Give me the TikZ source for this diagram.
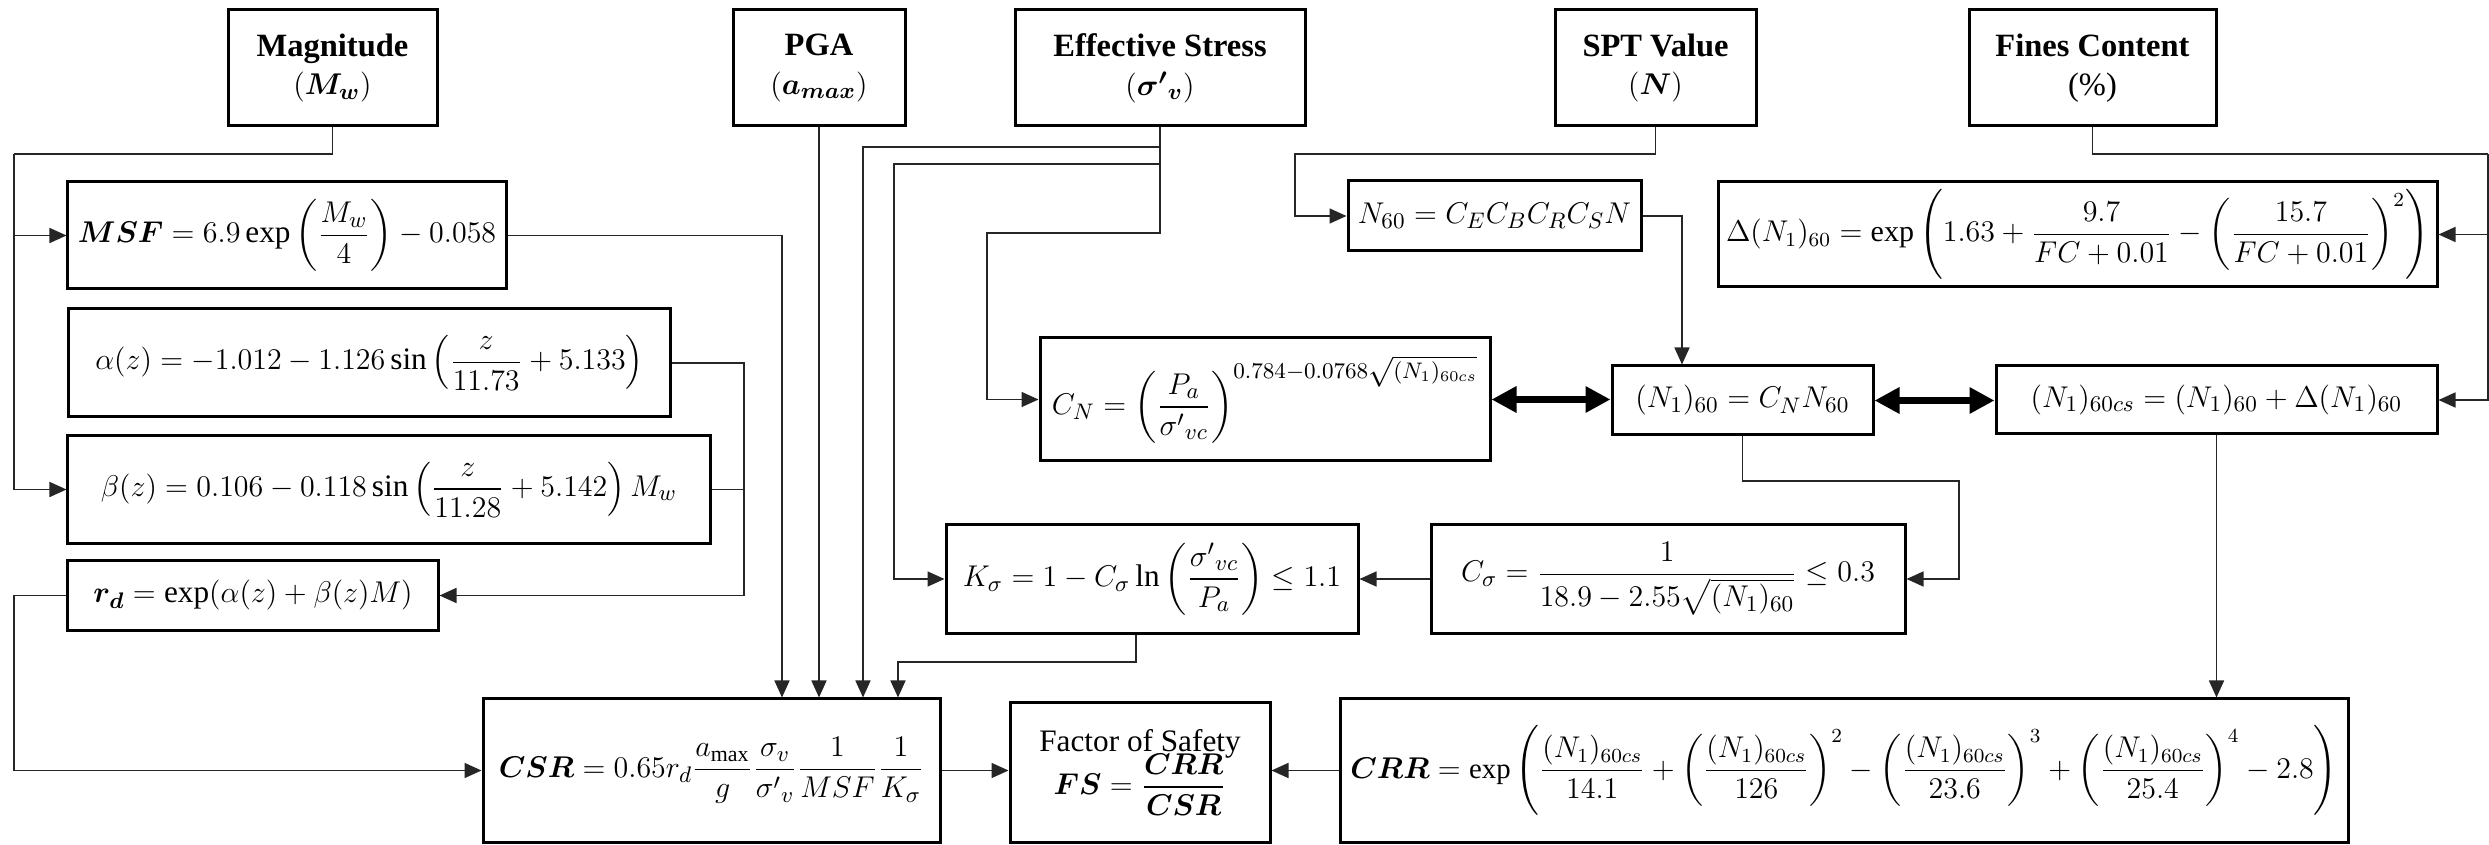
\documentclass[tikz,border=0pt]{standalone}
\usepackage{amsmath}
\usepackage{bm}
\usepackage{fontspec}
\setmainfont{LiberationSerif}[Extension=.ttf, UprightFont=*-Regular, BoldFont=*-Bold, ItalicFont=*-Italic, BoldItalicFont=*-BoldItalic]
\usetikzlibrary{arrows.meta}
\begin{document}
\begin{tikzpicture}[x=0.4pt,y=-0.4pt,
  eqbox/.style={draw=black, line width=1.2pt, inner sep=0pt, align=center, font=\fontsize{12.5}{15}\selectfont},
  ttlbox/.style={eqbox, font=\fontsize{13}{15.5}\selectfont\bfseries},
  conn/.style={draw=black!85, line width=0.65pt},
  arr/.style={conn, -{Triangle[length=6.8pt,width=6pt]}},
  dbl/.style={draw=black, line width=2.8pt, {Triangle[length=10pt,width=10pt]}-{Triangle[length=10pt,width=10pt]}}]
\fill[white] (0,0) rectangle (2489,845);
\useasboundingbox (0,0) rectangle (2489,845);

% top input boxes
\node[ttlbox, minimum width=83.6pt, minimum height=46.4pt] (mag) at (332.5,68) {Magnitude\\$(\bm{M_w})$};
\node[ttlbox, minimum width=68.8pt, minimum height=46.4pt] (pga) at (819,68) {PGA\\$(\bm{a_{max}})$};
\node[ttlbox, minimum width=116pt, minimum height=46.4pt] (eff) at (1160,68) {Effective Stress\\$(\bm{{\sigma'}_{v}})$};
\node[ttlbox, minimum width=80.4pt, minimum height=46.4pt] (spt) at (1655.5,68) {SPT Value\\$(\bm{N})$};
\node[ttlbox, minimum width=98.8pt, minimum height=46.4pt] (fines) at (2092.5,68) {Fines Content\\\textnormal{(\%)}};

% equation boxes
\node[eqbox, minimum width=175.2pt, minimum height=42.8pt] (msf) at (287,235.5)
  {$\displaystyle \bm{MSF} = 6.9\exp\left(\frac{M_w}{4}\right) - 0.058$};
\node[eqbox, minimum width=240.4pt, minimum height=43.2pt] (alpha) at (369.5,363)
  {$\displaystyle \alpha(z) = -1.012 - 1.126\sin\left(\frac{z}{11.73} + 5.133\right)$};
\node[eqbox, minimum width=256.8pt, minimum height=42.8pt] (beta) at (389,489.5)
  {$\displaystyle \beta(z) = 0.106 - 0.118\sin\left(\frac{z}{11.28} + 5.142\right)M_w$};
\node[eqbox, minimum width=148pt, minimum height=27.6pt] (rd) at (253,595.5)
  {$\displaystyle \bm{r_d} = \exp(\alpha(z) + \beta(z)M)$};
\node[eqbox, minimum width=117.2pt, minimum height=28pt] (n60) at (1494.5,216)
  {$\displaystyle N_{60} = C_E C_B C_R C_S N$};
\node[eqbox, minimum width=287.6pt, minimum height=42pt, font=\fontsize{12}{14}\selectfont] (delta) at (2077.5,234.5)
  {$\displaystyle \Delta(N_1)_{60} = \exp\left(1.63 + \frac{9.7}{FC+0.01} - \left(\frac{15.7}{FC+0.01}\right)^{2}\right)$};
\node[eqbox, minimum width=180pt, minimum height=49.2pt] (cn) at (1265,399.5)
  {$\displaystyle C_N = \left(\frac{P_a}{{\sigma'}_{vc}}\right)^{0.784-0.0768\sqrt{(N_1)_{60cs}}}$};
\node[eqbox, minimum width=104.4pt, minimum height=27.6pt] (n160) at (1742.5,400.5)
  {$\displaystyle (N_1)_{60} = C_N N_{60}$};
\node[eqbox, minimum width=176.4pt, minimum height=27.2pt] (n160cs) at (2216.5,400)
  {$\displaystyle (N_1)_{60cs} = (N_1)_{60} + \Delta(N_1)_{60}$};
\node[eqbox, minimum width=164.8pt, minimum height=43.2pt] (ks) at (1152,579)
  {$\displaystyle K_\sigma = 1 - C_\sigma \ln\left(\frac{{\sigma'}_{vc}}{P_a}\right) \le 1.1$};
\node[eqbox, minimum width=189.6pt, minimum height=43.2pt] (cs) at (1668,579)
  {$\displaystyle C_\sigma = \frac{1}{18.9 - 2.55\sqrt{(N_1)_{60}}} \le 0.3$};
\node[eqbox, minimum width=182.8pt, minimum height=57.2pt] (csr) at (711.5,770.5)
  {$\displaystyle \bm{CSR} = 0.65 r_d \frac{a_{\max}}{g}\frac{\sigma_v}{{\sigma'}_v}\frac{1}{MSF}\frac{1}{K_\sigma}$};
\node[eqbox, minimum width=104pt, minimum height=55.6pt] (fs) at (1140,772.5)
  {Factor of Safety\\[-3pt]$\displaystyle \bm{FS} = \frac{\bm{CRR}}{\bm{CSR}}$};
\node[eqbox, minimum width=403.2pt, minimum height=57.2pt, font=\fontsize{11.5}{14}\selectfont] (crr) at (1844,770.5)
  {$\displaystyle \bm{CRR} = \exp\left(\frac{(N_1)_{60cs}}{14.1} + \left(\frac{(N_1)_{60cs}}{126}\right)^{2} - \left(\frac{(N_1)_{60cs}}{23.6}\right)^{3} + \left(\frac{(N_1)_{60cs}}{25.4}\right)^{4} - 2.8\right)$};

% connectors
\coordinate (mL) at (14,154);
\draw[conn] (mag.south) |- (mL);
\draw[arr] (mL) |- (beta.west);
\draw[arr] (mL) |- (msf.west);

\draw[arr] (msf.east) -| (782,0 |- csr.north);
\draw[arr] (pga.south) -- (pga.south |- csr.north);

\draw[arr] (eff.south) -- (eff.south |- 0,147) -| (863,0 |- csr.north);
\draw[arr] (eff.south) -- (eff.south |- 0,164) -- (894,164) |- (ks.west);
\draw[arr] (eff.south) -- (eff.south |- 0,233) -- (987,233) |- (cn.west);

\draw[arr] (spt.south) -- (spt.south |- 0,154) -- (1295,154) |- (n60.west);
\draw[arr] (n60.east) -| (1682,0 |- n160.north);

\coordinate (fR) at (2488,154);
\draw[conn] (fines.south) |- (fR);
\draw[arr] (fR) |- (delta.east);
\draw[arr] (fR) |- (n160cs.east);

\draw[conn] (alpha.east) -- (744,0 |- alpha.east) -- (744,0 |- beta.east);
\draw[arr] (beta.east) -- (744,0 |- beta.east) |- (rd.east);

\draw[arr] (rd.west) -- (14,0 |- rd.west) |- (csr.west);

\draw[arr] ([xshift=-6.4pt]ks.south) |- (898,662) -- (898,0 |- csr.north);
\draw[arr] (cs.west) -- (ks.east);
\draw[arr] (n160.south) -- (n160.south |- 0,481) -- (1959,481) |- (cs.east);
\draw[arr] (n160cs.south) -- (n160cs.south |- crr.north);

\draw[arr] (csr.east) -- (csr.east -| fs.west);
\draw[arr] (crr.west) -- (crr.west -| fs.east);

\draw[dbl] (cn.east) -- (cn.east -| n160.west);
\draw[dbl] (n160.east) -- (n160.east -| n160cs.west);
\end{tikzpicture}
\end{document}
